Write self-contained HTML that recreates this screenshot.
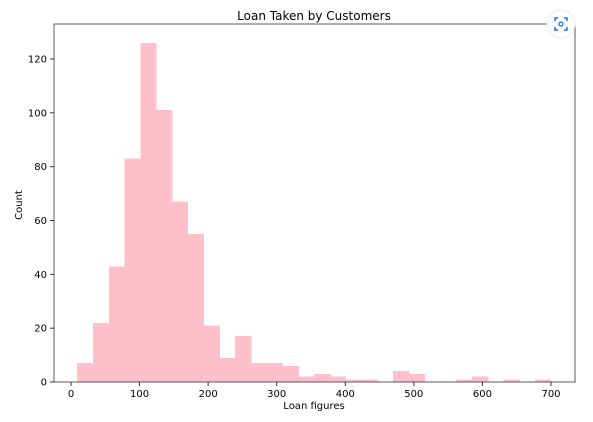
<!DOCTYPE html>
<html><head><meta charset="utf-8"><style>
body{margin:0;background:#fff;}
svg{display:block;font-family:"DejaVu Sans","Liberation Sans",sans-serif;}
</style></head><body>
<svg id="chart" width="593" height="422">
<text x="314" y="20" font-size="12" text-anchor="middle">Loan Taken by Customers</text>
<g id="bars" shape-rendering="crispEdges"></g>
<g id="axes"></g>
<text x="314" y="409" font-size="10" text-anchor="middle">Loan figures</text>
<text x="0" y="0" font-size="10" text-anchor="middle" transform="translate(22,205) rotate(-90)">Count</text>
<g>
<circle cx="561" cy="24" r="14" fill="#fff" stroke="#eee"/>
<path d="M555 21v-3h3M564 18h3v3M567 27v3h-3M558 30h-3v-3" fill="none" stroke="#1a73e8" stroke-width="1.5"/>
<circle cx="561" cy="24" r="2" fill="none" stroke="#1a73e8" stroke-width="1.3"/>
</g>
</svg>
<script>
const binStart = 9;
const binEnd = 700;
const counts = [7,22,43,83,126,101,67,55,21,9,17,7,7,6,2,3,2,1,1,0,4,3,0,0,1,2,0,1,0,1];
const xTicks = [0,100,200,300,400,500,600,700];
const yTicks = [0,20,40,60,80,100,120];
const L=54,R=575,T=24,B=382;
const x = v => 71 + (v-0)*(551-71)/700;
const y = v => 382 - v*(382-59)/120;
const NS='http://www.w3.org/2000/svg';
const bars=document.getElementById('bars'), axes=document.getElementById('axes');
const w=(binEnd-binStart)/counts.length;
counts.forEach((c,i)=>{
  const r=document.createElementNS(NS,'rect');
  const x0=x(binStart+i*w), x1=x(binStart+(i+1)*w);
  r.setAttribute('x',x0);r.setAttribute('width',x1-x0+0.5);
  r.setAttribute('y',y(c));r.setAttribute('height',y(0)-y(c));
  r.setAttribute('fill','#ffc0cb');
  
  
  bars.appendChild(r);
});
let frame=document.createElementNS(NS,'rect');
frame.setAttribute('x',L);frame.setAttribute('y',T);frame.setAttribute('width',R-L);frame.setAttribute('height',B-T);
frame.setAttribute('fill','none');frame.setAttribute('stroke','#333');frame.setAttribute('stroke-width','0.8');


axes.appendChild(frame);
xTicks.forEach(t=>{
  const l=document.createElementNS(NS,'line');
  l.setAttribute('x1',x(t));l.setAttribute('x2',x(t));l.setAttribute('y1',B);l.setAttribute('y2',B+4);l.setAttribute('stroke','#333');
  axes.appendChild(l);
  const tx=document.createElementNS(NS,'text');
  tx.setAttribute('x',x(t));tx.setAttribute('y',B+15);tx.setAttribute('font-size','10');tx.setAttribute('text-anchor','middle');
  tx.textContent=t;
  
  
  axes.appendChild(tx);
});
yTicks.forEach(t=>{
  const l=document.createElementNS(NS,'line');
  l.setAttribute('x1',L-4);l.setAttribute('x2',L);l.setAttribute('y1',y(t));l.setAttribute('y2',y(t));l.setAttribute('stroke','#333');
  axes.appendChild(l);
  const tx=document.createElementNS(NS,'text');
  tx.setAttribute('x',L-7);tx.setAttribute('y',y(t)+3.5);tx.setAttribute('font-size','10');tx.setAttribute('text-anchor','end');
  tx.textContent=t;
  
  
  axes.appendChild(tx);
});
</script>
</body></html>
